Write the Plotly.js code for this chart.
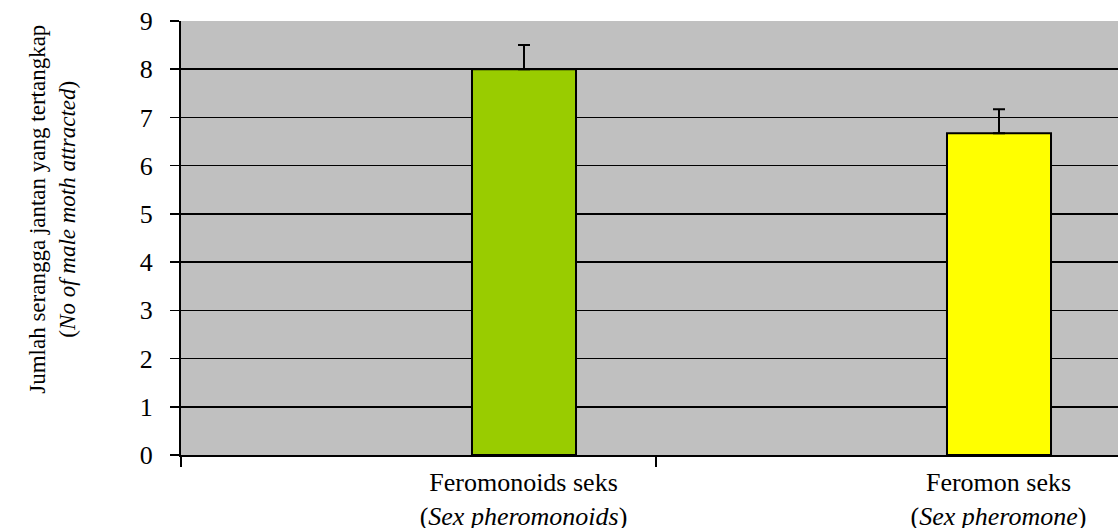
<!DOCTYPE html>
<html>
<head>
<meta charset="utf-8">
<script src="https://cdn.plot.ly/plotly-3.0.1.min.js"></script>
<style>
html,body{margin:0;padding:0;overflow:hidden;background:#fff;}
#chart{width:1141px;height:528px;}
</style>
</head>
<body>
<div id="chart"></div>
<script>
// Data
var categories = ["Feromonoids seks<br>(<i>Sex pheromonoids</i>)", "Feromon seks<br>(<i>Sex pheromone</i>)"];
var values = [8.0, 6.67];
var errorsPlus = [0.5, 0.5];
var errorsMinus = [0, 0];
var barColors = ["#99CC00", "#FFFF00"];
var yTickVals = [0, 1, 2, 3, 4, 5, 6, 7, 8, 9];
var yTitleLine1 = "Jumlah serangga jantan yang tertangkap";
var yTitleLine2 = "(<i>No of male moth attracted</i>)";

var trace = {
  type: "bar",
  x: categories,
  y: values,
  width: 0.219,
  offset: 0.1126,
  marker: {color: barColors, line: {color: "#000000", width: 2}},
  error_y: {
    type: "data",
    symmetric: false,
    array: errorsPlus,
    arrayminus: errorsMinus,
    color: "#000000",
    thickness: 2,
    width: 6
  },
  hoverinfo: "none"
};

var serif = "Times New Roman, Liberation Serif, DejaVu Serif, serif";

var layout = {
  width: 1141,
  height: 528,
  margin: {l: 181, r: 10, t: 21, b: 73},
  paper_bgcolor: "#ffffff",
  plot_bgcolor: "#C0C0C0",
  showlegend: false,
  font: {family: serif, size: 26, color: "#000000"},
  xaxis: {
    type: "category",
    range: [-0.5, 1.5],
    tickson: "boundaries",
    ticks: "outside",
    ticklen: 10,
    tickwidth: 1.5,
    tickcolor: "#000000",
    ticklabelshift: 105,
    ticklabelstandoff: 3,
    showline: true,
    linecolor: "#000000",
    linewidth: 2,
    showgrid: false,
    zeroline: false,
    tickfont: {family: serif, size: 26, color: "#000000"},
    fixedrange: true
  },
  yaxis: {
    range: [0, 9],
    tickvals: yTickVals,
    ticks: "outside",
    ticklen: 9,
    tickwidth: 1.5,
    tickcolor: "#000000",
    showline: true,
    linecolor: "#000000",
    linewidth: 2,
    showgrid: true,
    gridcolor: "#000000",
    gridwidth: 1.5,
    zeroline: false,
    tickfont: {family: serif, size: 26, color: "#000000"},
    ticklabelstandoff: 12,
    fixedrange: true
  },
  annotations: [
    {
      xref: "paper", yref: "paper",
      x: 0, y: 0.565,
      xanchor: "center", yanchor: "middle",
      xshift: -128,
      text: yTitleLine1 + "<br>" + yTitleLine2,
      textangle: -90,
      showarrow: false,
      font: {family: serif, size: 23, color: "#000000"}
    }
  ]
};

Plotly.newPlot("chart", [trace], layout, {displayModeBar: false, staticPlot: true});
</script>
</body>
</html>
